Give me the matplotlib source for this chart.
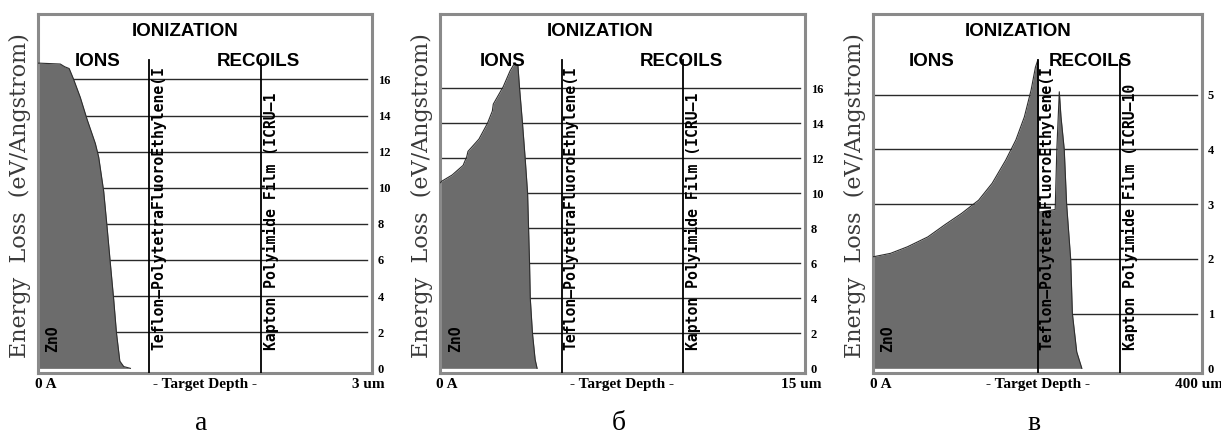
import matplotlib
matplotlib.use('Agg')
import matplotlib.pyplot as plt

# Ionization energy loss vs target depth (ZnO / Teflon / Kapton stack)
panel_letters = ['а', 'б', 'в']
depth_max = [3, 15, 400]
depth_units = ['3 um', '15 um', '400 um']
layer_bounds = [[1.0, 2.0], [5.0, 10.0], [200.0, 300.0]]
y_ticks = [[2, 4, 6, 8, 10, 12, 14, 16],
           [2, 4, 6, 8, 10, 12, 14, 16],
           [1, 2, 3, 4, 5]]
y_limits = [(-0.24, 19.62), (-0.25, 20.25), (-0.08, 6.47)]

teflon_label = 'Teflon\u2014PolytetraFluoroEthylene(I'
kapton_labels = ['Kapton Polyimide Film (ICRU\u20141',
                 'Kapton Polyimide Film (ICRU\u20141',
                 'Kapton Polyimide Film (ICRU\u201410']

# panel a: depth in um
a_depth = [0.0, 0.01, 0.20, 0.24, 0.28, 0.32, 0.38, 0.44, 0.515, 0.545,
           0.59, 0.62, 0.65, 0.68, 0.705, 0.735, 0.77, 0.83]
a_loss = [16.9, 16.9, 16.85, 16.7, 16.6, 16.0, 15.0, 13.8, 12.45, 11.7,
          9.8, 7.85, 5.8, 3.8, 1.95, 0.4, 0.1, 0.0]

# panel b: depth in um
b_depth = [0.0, 0.08, 0.5, 0.95, 1.10, 1.15, 1.6, 1.95, 2.15, 2.19, 2.6,
           2.88, 3.05, 3.2, 3.27, 3.39, 3.50, 3.60, 3.64, 3.68, 3.71,
           3.80, 3.91, 3.99]
b_loss = [10.6, 10.7, 11.05, 11.6, 12.1, 12.4, 13.1, 14.0, 14.7, 15.1, 16.1,
          17.0, 17.4, 17.35, 16.0, 14.0, 12.0, 10.0, 8.0, 6.0, 4.0,
          2.0, 0.5, 0.0]

# panel c: depth in um
c_depth = [0.0, 1.6, 21.4, 42.0, 66.7, 87.2, 107.8, 128.4, 144.9, 161.3,
           173.7, 184.0, 192.2, 197.5, 200.4, 201.5, 221.5, 223.5, 226.5,
           228.5, 232.5, 235.4, 240.3, 242.4, 247.7, 253.9]
c_loss = [2.04, 2.04, 2.10, 2.22, 2.40, 2.62, 2.83, 3.07, 3.38, 3.80,
          4.17, 4.59, 5.08, 5.50, 5.63, 2.85, 2.9, 4.0, 5.05,
          4.6, 4.0, 3.0, 2.0, 1.0, 0.3, 0.0]

depths = [a_depth, b_depth, c_depth]
losses = [a_loss, b_loss, c_loss]

W, H = 1221, 437
fig = plt.figure(figsize=(W / 100, H / 100), dpi=100)

# axes boxes in pixels: left, right
boxes = [(38, 372), (440, 805), (873, 1202)]
top_px, bottom_px = 14, 372.7

FILL = '#6c6c6c'
GRID = '#2a2a2a'

for i in range(3):
    x0, x1 = boxes[i]
    ax = fig.add_axes([x0 / W, (H - bottom_px) / H, (x1 - x0) / W,
                       (bottom_px - top_px) / H])
    ax_w = x1 - x0
    ax.set_xlim(0, depth_max[i])
    ax.set_ylim(*y_limits[i])

    for s in ax.spines.values():
        s.set_color('#8a8a8a')
        s.set_linewidth(2.2)

    # horizontal grid
    for t in y_ticks[i]:
        ax.axhline(t, xmin=0, xmax=0.985, color=GRID, lw=1.0, zorder=1)

    # energy loss histogram
    ax.fill_between(depths[i], losses[i], 0, color=FILL, lw=0, zorder=2)
    ax.plot(depths[i], losses[i], color='#2e2e2e', lw=0.8, zorder=3)

    # layer boundaries
    for xb in layer_bounds[i]:
        ax.axvline(xb, ymin=0, ymax=0.872, color='black', lw=1.3, zorder=4)

    ax.annotate(teflon_label, xy=(layer_bounds[i][0], 0.063),
                xycoords=('data', 'axes fraction'), xytext=(1.5, 0),
                textcoords='offset points', rotation=90, ha='left',
                va='bottom', family='DejaVu Sans Mono', weight='bold',
                fontsize=10.6, zorder=5)
    ax.annotate(kapton_labels[i], xy=(layer_bounds[i][1], 0.063),
                xycoords=('data', 'axes fraction'), xytext=(1.5, 0),
                textcoords='offset points', rotation=90, ha='left',
                va='bottom', family='DejaVu Sans Mono', weight='bold',
                fontsize=10.6, zorder=5)
    ax.text(0.022, 0.058, 'ZnO', transform=ax.transAxes, rotation=90,
            ha='left', va='bottom', family='DejaVu Sans Mono',
            weight='bold', fontsize=10.6, zorder=5)

    # headers
    ax.text(0.44, 0.95, 'IONIZATION', transform=ax.transAxes, ha='center',
            va='center', family='Liberation Sans', weight='bold',
            fontsize=13.5, zorder=6)
    ax.text(0.11, 0.867, 'IONS', transform=ax.transAxes, ha='left',
            va='center', family='Liberation Sans', weight='bold',
            fontsize=13.5, zorder=6)
    ax.text(0.66, 0.867, 'RECOILS', transform=ax.transAxes, ha='center',
            va='center', family='Liberation Sans', weight='bold',
            fontsize=13.5, zorder=6)

    # right-hand tick labels
    ax.set_xticks([])
    ax.yaxis.tick_right()
    ax.set_yticks([0] + y_ticks[i])
    ax.tick_params(axis='y', length=0, pad=4)
    for lab in ax.get_yticklabels():
        lab.set_family('Liberation Serif')
        lab.set_weight('bold')
        lab.set_fontsize(9)

    # depth axis annotations
    ax.text(-0.01, -0.034, '0 A', transform=ax.transAxes, ha='left',
            va='center', family='Liberation Serif', weight='bold',
            fontsize=11)
    ax.text(0.5, -0.034, '- Target Depth -', transform=ax.transAxes,
            ha='center', va='center', family='Liberation Serif',
            weight='bold', fontsize=11)
    ax.text(0.99, -0.034, depth_units[i], transform=ax.transAxes,
            ha='center', va='center', family='Liberation Serif',
            weight='bold', fontsize=11)

    ax.text(-18 / ax_w, 0.495, 'Energy  Loss  (eV/Angstrom)',
            transform=ax.transAxes, rotation=90, ha='center', va='center',
            family='DejaVu Serif', fontsize=16, color='#3a3a3a')

    fig.text((x0 + x1) / 2 / W - 4 / W, 1 / H, panel_letters[i],
             ha='center', va='bottom', family='Liberation Serif',
             fontsize=20)

fig.savefig('out.png', dpi=100)
